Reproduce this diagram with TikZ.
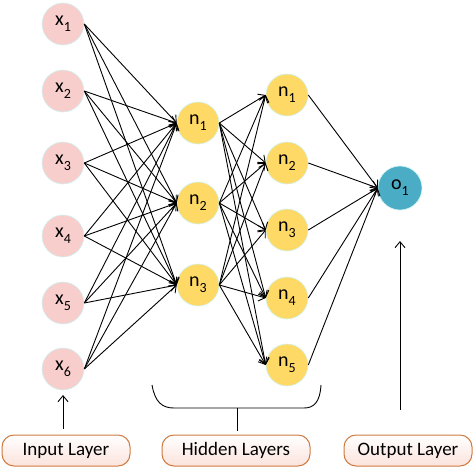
\documentclass[tikz,border=0pt]{standalone}
\usepackage{fontspec}
\setmainfont{Carlito}
\usetikzlibrary{arrows.meta}
\definecolor{inpink}{HTML}{F8CECC}
\definecolor{hidyellow}{HTML}{FFD966}
\definecolor{outblue}{HTML}{4BACC6}
\definecolor{rimcyan}{HTML}{CFF3F2}
\definecolor{boxorange}{HTML}{CF7A3E}
\definecolor{boxpink}{HTML}{FBE3DC}
\tikzset{>/.tip={Straight Barb[length=6pt,width=10pt]}}
\newcommand{\nlab}[2]{#1\raisebox{-0.3em}{\fontsize{14}{16}\selectfont #2}}

\begin{document}
\begin{tikzpicture}[x=1pt,y=-1pt,
  neuron/.style={circle,draw=rimcyan,line width=0.6pt,minimum size=42pt,inner sep=0pt,font=\fontsize{20}{24}\selectfont},
  innode/.style={neuron,fill=inpink},
  hidnode/.style={neuron,fill=hidyellow},
  outnode/.style={neuron,fill=outblue,minimum size=44pt},
  layerbox/.style={draw=boxorange,line width=1pt,rounded corners=12pt,top color=white,bottom color=boxpink,
    minimum height=31pt,font=\fontsize{19}{22}\selectfont},
  wire/.style={->,line width=0.9pt}]
\useasboundingbox (0,0) rectangle (474,467);
% input layer
\node[innode] (x1) at (63,24)  {\nlab{x}{1}};
\node[innode] (x2) at (63,91)  {\nlab{x}{2}};
\node[innode] (x3) at (63,163) {\nlab{x}{3}};
\node[innode] (x4) at (63,236) {\nlab{x}{4}};
\node[innode] (x5) at (63,303) {\nlab{x}{5}};
\node[innode] (x6) at (63,369) {\nlab{x}{6}};
% first hidden layer
\node[hidnode] (a1) at (198,123) {\nlab{n}{1}};
\node[hidnode] (a2) at (198,203) {\nlab{n}{2}};
\node[hidnode] (a3) at (198,285) {\nlab{n}{3}};
% second hidden layer
\node[hidnode] (b1) at (287,95)  {\nlab{n}{1}};
\node[hidnode] (b2) at (287,163) {\nlab{n}{2}};
\node[hidnode] (b3) at (287,230) {\nlab{n}{3}};
\node[hidnode] (b4) at (287,298) {\nlab{n}{4}};
\node[hidnode] (b5) at (287,365) {\nlab{n}{5}};
% output
\node[outnode] (o1) at (400,188) {\nlab{o}{1}};

\foreach \i in {1,...,6}
  \foreach \j in {1,2,3}
    \draw[wire] (x\i.east) -- (a\j.west);
\foreach \i in {1,2,3}
  \foreach \j in {1,...,5}
    \draw[wire] (a\i.east) -- (b\j.west);
\foreach \j in {1,...,5}
  \draw[wire] (b\j.east) -- (o1.west);

% layer labels
\node[layerbox,minimum width=128pt] (inbox)  at (66,450.5)  {Input Layer};
\node[layerbox,minimum width=148pt] (hidbox) at (236,450.5) {Hidden Layers};
\node[layerbox,minimum width=128pt] (outbox) at (408,450.5) {Output Layer};

\coordinate (inarr) at (63,395);
\coordinate (outarr) at (400,241);
\coordinate (outfoot) at (400,410);
\coordinate (braceL) at (152,385);
\coordinate (braceR) at (321,385);
\coordinate (braceM) at (237,408);
\draw[->,line width=0.9pt] (inbox.north -| inarr) ++(0,-6) -- (inarr);
\draw[->,line width=0.9pt] (outfoot) -- (outarr);
\draw[line width=0.9pt] (braceL) .. controls (155,402) and (162,408) .. (174,408)
  -- (304,408) .. controls (314,408) and (320,402) .. (braceR);
\draw[line width=0.9pt] (braceM) -- (braceM |- 0,431);
\end{tikzpicture}
\end{document}
